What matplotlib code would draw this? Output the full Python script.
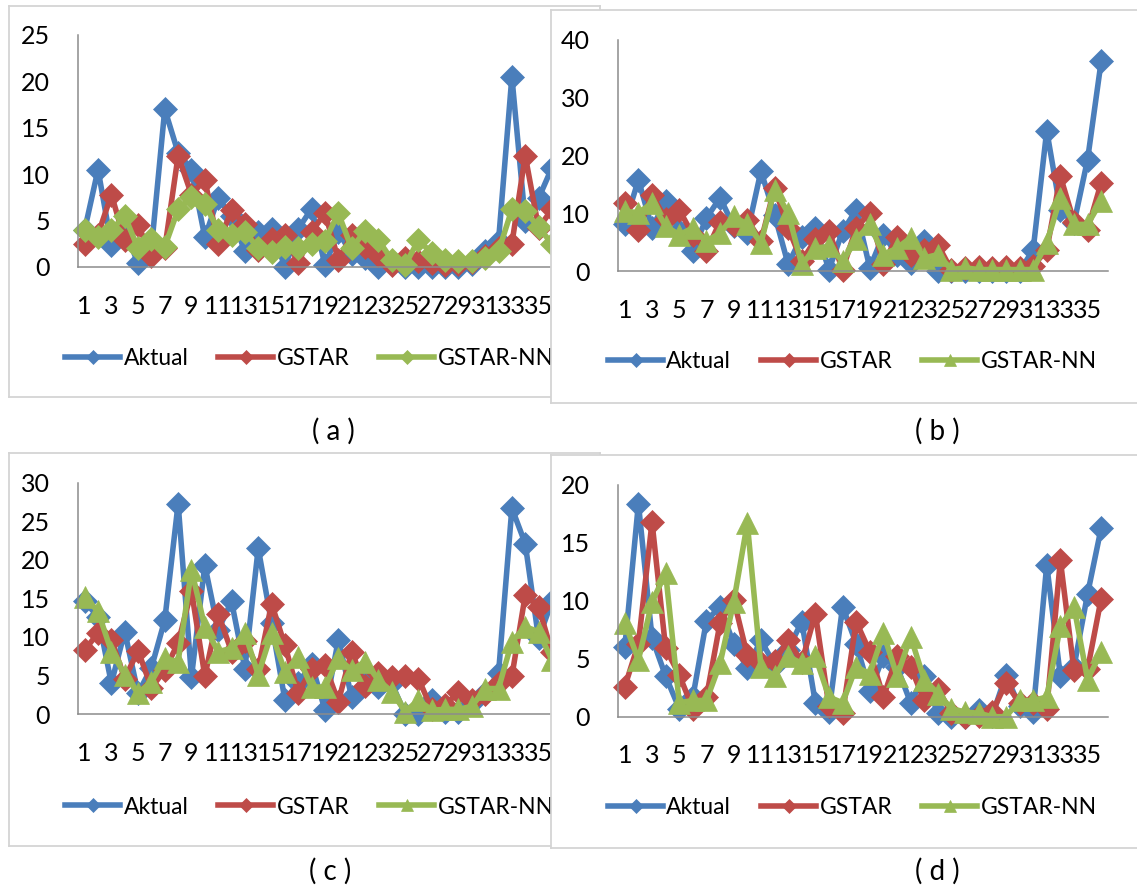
import matplotlib
matplotlib.use('Agg')
import matplotlib.pyplot as plt

plt.rcParams['font.family'] = ['Lato', 'DejaVu Sans']

W, H = 1137, 893
FS_TICK = 18
FS_LEG = 16.5
FS_CAP = 20

series_names = ['Aktual', 'GSTAR', 'GSTAR-NN']
colors = ['#4A7EBB', '#BE4B48', '#98B954']

# panel (a) - 37 points, the last one is hidden under panel (b)
a_aktual = [4.0, 10.5, 2.4, 4.0, 0.4, 2.0, 17.0, 12.3, 10.5, 3.2, 7.4, 5.5, 1.7, 3.8, 4.1, 0.0, 4.1, 6.3, 0.2, 3.8,
            1.4, 1.0, 0.0, 0.3, 0.0, 0.0, 0.0, 0.0, 0.0, 0.3, 1.7, 2.8, 20.5, 5.0, 7.4, 10.7, 7.0]
a_gstar = [2.5, 3.5, 7.8, 2.9, 4.5, 1.2, 2.0, 12.0, 7.8, 9.4, 2.5, 6.1, 4.6, 1.8, 3.0, 3.5, 0.4, 3.8, 5.8, 0.8,
           3.4, 2.2, 1.3, 0.2, 1.0, 0.7, 0.4, 0.2, 0.3, 0.5, 1.2, 2.0, 2.5, 12.0, 4.2, 6.2, 8.5]
a_gstarnn = [4.0, 3.2, 4.0, 5.5, 2.0, 3.0, 2.2, 6.2, 7.5, 6.8, 4.0, 3.5, 3.8, 2.0, 1.6, 2.2, 2.0, 2.5, 2.8, 5.8,
             2.0, 3.9, 2.9, 0.8, 0.2, 2.9, 1.5, 0.8, 0.6, 0.7, 1.0, 1.7, 6.2, 6.0, 4.3, 2.5, 4.0]

# panel (b)
b_aktual = [8.1, 15.8, 7.5, 12.1, 7.0, 3.5, 9.2, 12.7, 7.8, 6.6, 17.3, 9.8, 1.2, 6.0, 7.5, 0.3, 6.9, 10.6, 0.6, 6.3,
            2.9, 1.4, 5.2, 0.0, 0.0, 0.0, 0.0, 0.0, 0.0, 0.0, 3.7, 24.3, 10.6, 8.3, 19.3, 36.3]
b_gstar = [11.8, 7.2, 13.2, 9.0, 10.6, 6.3, 3.5, 8.6, 8.0, 8.9, 5.2, 14.4, 7.5, 1.7, 5.5, 6.9, 0.3, 7.5, 10.1, 1.2,
           6.0, 2.9, 3.7, 4.6, 0.2, 0.5, 0.8, 0.5, 0.7, 0.5, 0.9, 3.7, 16.4, 8.6, 7.2, 15.3]
b_gstarnn = [10.4, 10.1, 11.8, 7.8, 6.3, 7.5, 5.2, 6.6, 9.5, 8.1, 4.9, 14.1, 10.1, 1.2, 4.0, 4.3, 1.7, 5.5, 8.1, 2.9,
             4.0, 5.8, 2.3, 2.9, 0.3, 0.6, 0.3, 0.3, 0.3, 0.3, 0.3, 4.9, 12.7, 8.1, 8.1, 12.1]

# panel (c) - 37 points, the last one is hidden under panel (d)
c_aktual = [14.6, 12.6, 4.0, 10.7, 2.7, 6.0, 12.2, 27.3, 4.8, 19.3, 10.9, 14.6, 5.9, 21.5, 11.8, 1.8, 4.0, 6.5, 0.5, 9.6,
            2.2, 5.0, 3.5, 4.0, 0.0, 0.0, 1.8, 0.3, 0.2, 1.4, 2.7, 5.3, 26.7, 22.1, 9.8, 14.6, 3.5]
c_gstar = [8.3, 10.5, 9.6, 4.6, 8.2, 3.4, 5.7, 9.2, 16.0, 4.9, 13.0, 8.1, 9.5, 5.8, 14.3, 8.9, 2.7, 5.9, 6.3, 1.6,
           8.1, 3.6, 5.3, 4.8, 4.9, 4.6, 0.6, 1.2, 2.8, 1.8, 2.6, 4.0, 4.9, 15.4, 13.9, 8.0, 8.5]
c_gstarnn = [15.2, 13.3, 8.1, 5.1, 2.7, 4.2, 7.2, 6.8, 18.7, 11.3, 8.1, 8.5, 10.5, 5.1, 10.5, 5.5, 7.4, 3.5, 3.5, 7.2,
             5.7, 6.8, 4.4, 2.9, 0.3, 1.8, 0.5, 0.6, 0.6, 1.0, 3.3, 3.3, 9.4, 11.3, 10.7, 7.0, 5.5]

# panel (d)
d_aktual = [6.0, 18.4, 6.8, 3.5, 0.7, 1.7, 8.3, 9.5, 6.3, 4.2, 6.6, 4.5, 5.8, 8.2, 1.2, 0.4, 9.5, 6.3, 2.2, 5.2,
            4.3, 1.2, 3.5, 0.3, 0.0, 0.0, 0.6, 0.1, 3.6, 0.9, 0.4, 13.1, 3.5, 4.3, 10.6, 16.3]
d_gstar = [2.6, 6.3, 16.8, 5.9, 3.6, 0.7, 1.7, 8.1, 10.1, 5.3, 4.6, 4.8, 6.6, 4.7, 8.9, 0.9, 0.3, 8.2, 5.6, 1.7,
           5.2, 4.3, 1.4, 2.4, 0.3, 0.0, 0.1, 0.4, 2.9, 1.2, 1.2, 0.7, 13.5, 4.0, 4.1, 10.2]
d_gstarnn = [8.1, 4.9, 9.9, 12.4, 1.2, 1.4, 1.4, 4.6, 9.9, 16.7, 4.3, 3.5, 5.2, 4.6, 5.2, 1.7, 1.2, 4.3, 3.7, 7.2,
             3.5, 6.9, 3.2, 2.0, 0.7, 0.4, 0.3, 0.0, 0.0, 1.4, 1.4, 1.7, 7.8, 9.5, 3.2, 5.6]

y_ticks_a = [0, 5, 10, 15, 20, 25]
y_ticks_b = [0, 10, 20, 30, 40]
y_ticks_c = [0, 5, 10, 15, 20, 25, 30]
y_ticks_d = [0, 5, 10, 15, 20]
x_labels = list(range(1, 36, 2))


def frac(x0, y0, x1, y1):
    # pixel box (top-left origin) -> figure fraction rect
    return [x0 / W, 1 - y1 / H, (x1 - x0) / W, (y1 - y0) / H]


def frame(fig, x0, y0, x1, y1):
    ax = fig.add_axes(frac(x0, y0, x1, y1))
    ax.set_facecolor('white')
    ax.set_xticks([])
    ax.set_yticks([])
    for s in ax.spines.values():
        s.set_color('#D4D4D4')
        s.set_linewidth(1.3)
    return ax


def chart(fig, box, series, yticks, nn_marker, leg_xy):
    left, right, y0, ytop = box
    ax = fig.add_axes(frac(left, ytop, right, y0))
    ax.patch.set_alpha(0)
    n = len(series[0])
    x = list(range(1, n + 1))
    markers = ['D', 'D', nn_marker]
    handles = []
    for vals, col, mk, name in zip(series, colors, markers, series_names):
        ms = 12.5 if mk == 'D' else 15.5
        ln, = ax.plot(x, vals, color=col, lw=4.0, marker=mk, ms=ms, mec=col,
                      mew=0.5, clip_on=False, label=name, solid_joinstyle='round')
        handles.append(ln)
    ax.set_xlim(0.5, n + 0.5)
    ax.set_ylim(yticks[0], yticks[-1])
    ax.set_xticks(x_labels)
    ax.set_xticklabels([str(v) for v in x_labels], fontsize=FS_TICK)
    ax.set_yticks(yticks)
    ax.set_yticklabels([str(v) for v in yticks], fontsize=FS_TICK)
    ax.tick_params(axis='x', length=0, pad=20)
    ax.tick_params(axis='y', length=0, pad=20)
    for s in ['top', 'right']:
        ax.spines[s].set_visible(False)
    for s in ['left', 'bottom']:
        ax.spines[s].set_color('#8C8C8C')
        ax.spines[s].set_linewidth(1.1)
    ax.legend(handles=handles, loc='center left',
              bbox_to_anchor=(leg_xy[0] / W, 1 - leg_xy[1] / H),
              bbox_transform=fig.transFigure, ncol=3, frameon=False,
              fontsize=FS_LEG, handlelength=2.4, handletextpad=0.15,
              columnspacing=1.3, borderpad=0, borderaxespad=0, markerscale=0.55)
    return ax


fig = plt.figure(figsize=(W / 100, H / 100), dpi=100)

frame(fig, 9, 6, 600, 397)
chart(fig, (78, 78 + 37 * 13.35, 267, 35), [a_aktual, a_gstar, a_gstarnn], y_ticks_a, 'D', (65, 359))

frame(fig, 551, 10, 1150, 403)
chart(fig, (618, 1108, 271.3, 39.7), [b_aktual, b_gstar, b_gstarnn], y_ticks_b, '^', (608, 362))

frame(fig, 9, 453, 600, 846)
chart(fig, (78, 78 + 37 * 13.35, 714, 482.7), [c_aktual, c_gstar, c_gstarnn], y_ticks_c, '^', (65, 807))

frame(fig, 551, 455, 1150, 848)
chart(fig, (618, 1108, 716.7, 485), [d_aktual, d_gstar, d_gstarnn], y_ticks_d, '^', (608, 808))

fig.text(333 / W, 1 - 431 / H, '( a )', ha='center', va='center', fontsize=FS_CAP)
fig.text(937 / W, 1 - 431 / H, '( b )', ha='center', va='center', fontsize=FS_CAP)
fig.text(330 / W, 1 - 871 / H, '( c )', ha='center', va='center', fontsize=FS_CAP)
fig.text(937 / W, 1 - 871 / H, '( d )', ha='center', va='center', fontsize=FS_CAP)

fig.savefig('out.png', dpi=100)
